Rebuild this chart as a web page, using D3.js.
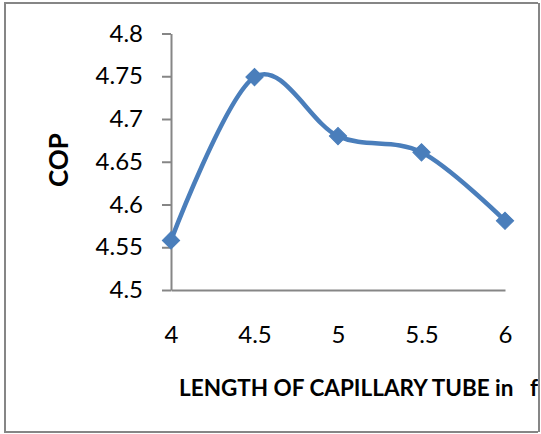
<!DOCTYPE html>
<html>
<head>
<meta charset="utf-8">
<script src="https://cdn.jsdelivr.net/npm/d3@7"></script>
<style>
  body { margin: 0; background: #fff; }
  svg { display: block; font-family: Lato, "Open Sans", sans-serif; }
</style>
</head>
<body>
<script>
// data
var lengths = [4, 4.5, 5, 5.5, 6];
var cop = [4.558, 4.749, 4.680, 4.661, 4.581];
var yTicks = [4.5, 4.55, 4.6, 4.65, 4.7, 4.75, 4.8];
var xTicks = [4, 4.5, 5, 5.5, 6];

var width = 541, height = 434;
var axisColor = "#868686";
var lineColor = "#4a7ebb";

var svg = d3.select("body").append("svg")
    .attr("width", width)
    .attr("height", height);

//outer frame
svg.append("rect")
    .attr("x", 5).attr("y", 3)
    .attr("width", 534).attr("height", 429)
    .attr("fill", "none")
    .attr("stroke", axisColor)
    .attr("stroke-width", 2);

var x = d3.scaleLinear().domain([4, 6]).range([171, 505]);
var y = d3.scaleLinear().domain([4.5, 4.8]).range([290, 33.5]);

//y axis
svg.append("g")
    .attr("transform", "translate(171,0)")
    .call(d3.axisLeft(y)
        .tickValues(yTicks)
        .tickFormat(function(d) { return String(+d.toFixed(2)); })
        .tickSize(9)
        .tickSizeOuter(0)
        .tickPadding(19));

//x axis
svg.append("g")
    .attr("transform", "translate(0,290)")
    .call(d3.axisBottom(x)
        .tickValues(xTicks)
        .tickFormat(function(d) { return String(d); })
        .tickSize(0)
        .tickPadding(36));

svg.selectAll(".domain, .tick line")
    .attr("stroke", axisColor)
    .attr("stroke-width", 2);
svg.selectAll(".tick text")
    .attr("fill", "#000")
    .style("font-size", "24px")
    .style("font-family", "Lato, sans-serif");

//smoothed series line
var pts = lengths.map(function(d, i) { return [d, cop[i]]; });
var line = d3.line()
    .x(function(d) { return x(d[0]); })
    .y(function(d) { return y(d[1]); })
    .curve(d3.curveCardinal.tension(0));

svg.append("path")
    .datum(pts)
    .attr("d", line)
    .attr("fill", "none")
    .attr("stroke", lineColor)
    .attr("stroke-width", 4.5)
    .attr("stroke-linecap", "round");

//diamond markers
svg.selectAll(".marker")
    .data(pts)
    .enter().append("path")
    .attr("class", "marker")
    .attr("d", d3.symbol().type(d3.symbolSquare).size(150))
    .attr("transform", function(d) {
        return "translate(" + x(d[0]) + "," + y(d[1]) + ") rotate(45)";
    })
    .attr("fill", lineColor)
    .attr("stroke", lineColor)
    .attr("stroke-width", 1);

//axis titles
svg.append("text")
    .attr("transform", "translate(68,160) rotate(-90)")
    .attr("text-anchor", "middle")
    .style("font-size", "26px")
    .style("font-weight", "bold")
    .text("COP");

svg.append("text")
    .attr("x", 179)
    .attr("y", 396)
    .style("font-size", "22.5px")
    .style("font-weight", "bold")
    .style("white-space", "pre")
    .text("LENGTH OF CAPILLARY TUBE in   feet");

//frame right edge over the clipped title
svg.append("rect")
    .attr("x", 538).attr("y", 0)
    .attr("width", 3).attr("height", height)
    .attr("fill", "#fff");
svg.append("line")
    .attr("x1", 539).attr("x2", 539)
    .attr("y1", 3).attr("y2", 432)
    .attr("stroke", axisColor)
    .attr("stroke-width", 2);
</script>
</body>
</html>
